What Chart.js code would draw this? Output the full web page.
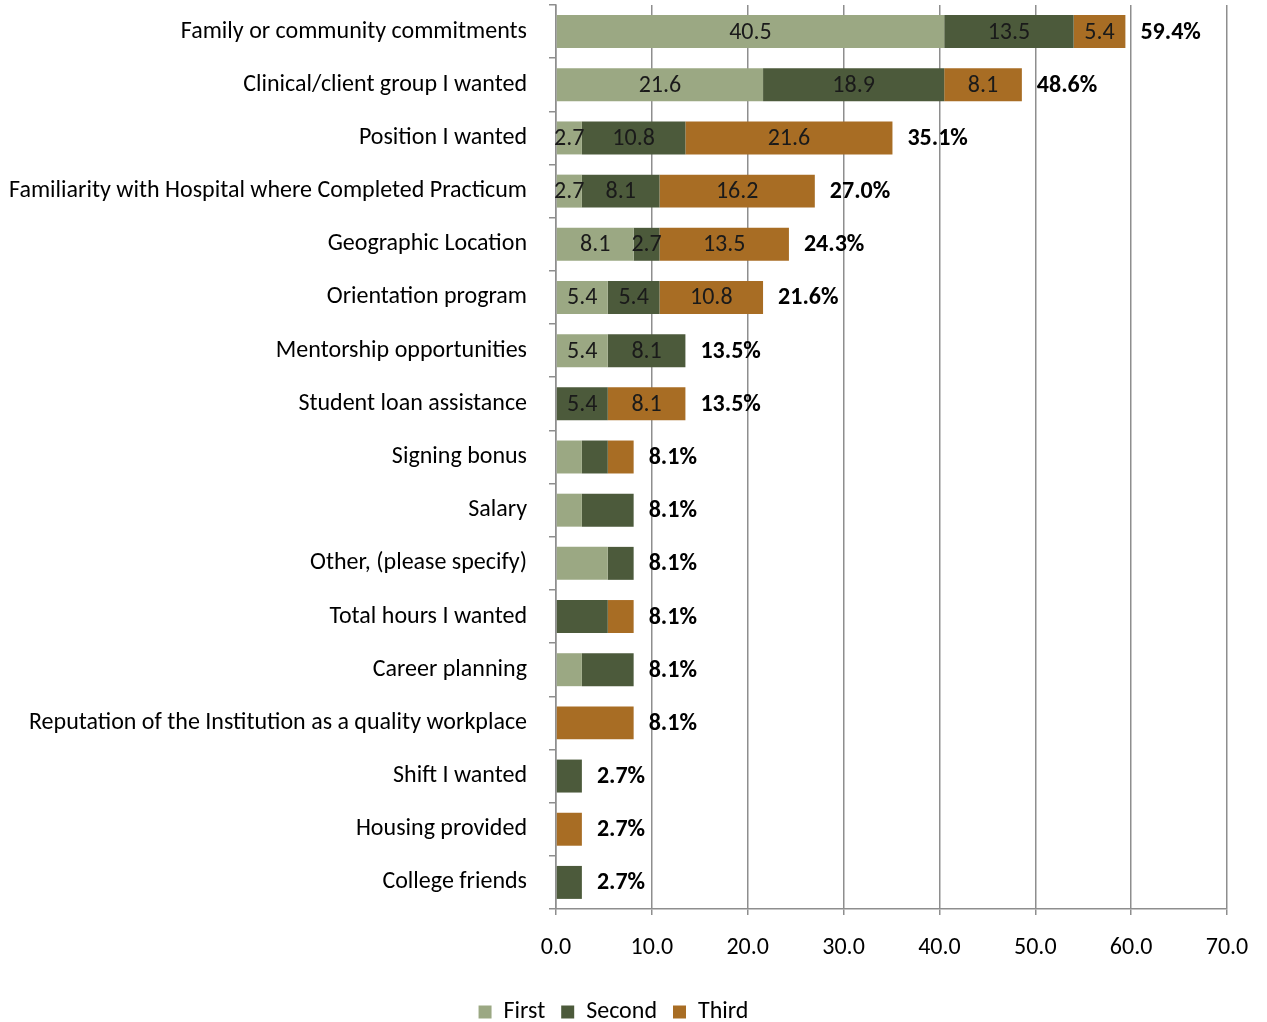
<!DOCTYPE html>
<html>
<head>
<meta charset="utf-8">
<script src="https://cdn.jsdelivr.net/npm/chart.js@4.4.1/dist/chart.umd.min.js"></script>
<style>
  html, body { margin: 0; padding: 0; background: #fff; overflow: hidden; }
  #wrap { width: 1267px; height: 1022px; position: relative; }
</style>
</head>
<body>
<div id="wrap"><canvas id="grafico"></canvas></div>
<script>
const categorias = [
  "Family or community commitments",
  "Clinical/client group I wanted",
  "Position I wanted",
  "Familiarity with Hospital where Completed Practicum",
  "Geographic Location",
  "Orientation program",
  "Mentorship opportunities",
  "Student loan assistance",
  "Signing bonus",
  "Salary",
  "Other, (please specify)",
  "Total hours I wanted",
  "Career planning",
  "Reputation of the Institution as a quality workplace",
  "Shift I wanted",
  "Housing provided",
  "College friends"
]
const primero = [40.5, 21.6, 2.7, 2.7, 8.1, 5.4, 5.4, 0, 2.7, 2.7, 5.4, 0, 2.7, 0, 0, 0, 0]
const segundo = [13.5, 18.9, 10.8, 8.1, 2.7, 5.4, 8.1, 5.4, 2.7, 5.4, 2.7, 5.4, 5.4, 0, 2.7, 0, 2.7]
const tercero = [5.4, 8.1, 21.6, 16.2, 13.5, 10.8, 0, 8.1, 2.7, 0, 0, 2.7, 0, 8.1, 0, 2.7, 0]
const totales = ["59.4%", "48.6%", "35.1%", "27.0%", "24.3%", "21.6%", "13.5%", "13.5%", "8.1%", "8.1%", "8.1%", "8.1%", "8.1%", "8.1%", "2.7%", "2.7%", "2.7%"]
const valoresTotales = [59.4, 48.6, 35.1, 27.0, 24.3, 21.6, 13.5, 13.5, 8.1, 8.1, 8.1, 8.1, 8.1, 8.1, 2.7, 2.7, 2.7]
const filasConEtiqueta = 8

const fuente = "Calibri, Carlito, Lato, sans-serif"
const tam = 24

const etiquetas = {
  id: "etiquetas",
  afterDatasetsDraw(chart) {
    const ctx = chart.ctx
    ctx.save()
    ctx.textBaseline = "middle"
    ctx.font = `${tam}px ${fuente}`
    ctx.fillStyle = "#1a1a1a"
    ctx.textAlign = "center"
    chart.data.datasets.forEach((ds, i) => {
      const meta = chart.getDatasetMeta(i)
      meta.data.forEach((barra, j) => {
        if (j >= filasConEtiqueta || !ds.data[j]) return
        ctx.fillText(ds.data[j].toFixed(1), (barra.x + barra.base) / 2, barra.y + 1)
      })
    })
    ctx.font = `bold ${tam}px ${fuente}`
    ctx.fillStyle = "#000"
    ctx.textAlign = "left"
    const escalaX = chart.scales.x
    const meta0 = chart.getDatasetMeta(0)
    totales.forEach((t, j) => {
      const x = escalaX.getPixelForValue(valoresTotales[j]) + 15
      ctx.fillText(t, x, meta0.data[j].y + 1)
    })
    ctx.restore()
  }
}

new Chart(document.querySelector("#grafico"), {
  type: "bar",
  data: {
    labels: categorias,
    datasets: [
      { label: "First", data: primero, backgroundColor: "#9ba883" },
      { label: "Second", data: segundo, backgroundColor: "#4c5a3b" },
      { label: "Third", data: tercero, backgroundColor: "#a86d24" }
    ]
  },
  options: {
    indexAxis: "y",
    responsive: true,
    maintainAspectRatio: false,
    animation: false,
    layout: { padding: { top: 5, right: 40, left: 0, bottom: -12 } },
    datasets: { bar: { barPercentage: 0.62, categoryPercentage: 1 } },
    scales: {
      x: {
        stacked: true,
        min: 0,
        max: 70,
        ticks: {
          stepSize: 10,
          padding: 19,
          color: "#000",
          font: { family: fuente, size: tam },
          callback: v => v.toFixed(1)
        },
        grid: { color: "#8e8e8e", lineWidth: 1.5, tickLength: 6 },
        border: { color: "#8e8e8e", width: 1.5 },
        afterFit: s => { s.height = 75; s.paddingLeft = 0; s.paddingRight = 0 }
      },
      y: {
        stacked: true,
        ticks: {
          padding: 22,
          color: "#000",
          font: { family: fuente, size: tam },
          autoSkip: false
        },
        grid: { drawOnChartArea: false, color: "#8e8e8e", lineWidth: 1.5, tickLength: 7, offset: true },
        border: { color: "#8e8e8e", width: 1.5 },
        afterFit: s => { s.width = 556; s.paddingTop = 0; s.paddingBottom = 0 }
      }
    },
    plugins: {
      legend: {
        position: "bottom",
        labels: {
          boxWidth: 13,
          boxHeight: 13,
          padding: 16,
          color: "#000",
          font: { family: fuente, size: tam }
        }
      },
      tooltip: { enabled: false }
    }
  },
  plugins: [etiquetas]
})
</script>
</body>
</html>
